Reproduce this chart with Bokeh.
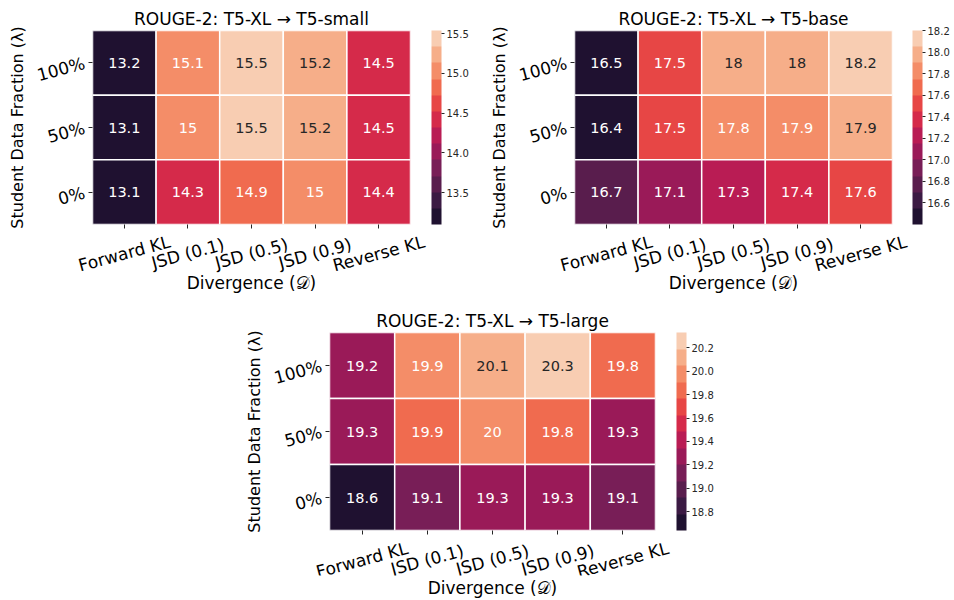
import math
from bokeh.plotting import figure
from bokeh.models import (ColumnDataSource, LinearColorMapper, ColorBar, FixedTicker,
                          PrintfTickFormatter, FactorRange, Range1d, Spacer)
from bokeh.layouts import row, column
from bokeh.core.properties import value
from bokeh.embed import file_html
from bokeh.resources import INLINE

divergences = ["Forward KL", "JSD (0.1)", "JSD (0.5)", "JSD (0.9)", "Reverse KL"]
fractions_top_down = ["100%", "50%", "0%"]

# ROUGE-2: T5-XL -> T5-small
small_100 = [13.2, 15.1, 15.54, 15.2, 14.5]
small_50 = [13.1, 15.0, 15.5, 15.2, 14.5]
small_0 = [13.1, 14.33, 14.9, 15.0, 14.4]
small_ticks = [13.5, 14.0, 14.5, 15.0, 15.5]

# ROUGE-2: T5-XL -> T5-base
base_100 = [16.5, 17.5, 18.0, 18.0, 18.2]
base_50 = [16.4, 17.5, 17.8, 17.88, 17.92]
base_0 = [16.72, 17.1, 17.28, 17.4, 17.58]
base_ticks = [16.6, 16.8, 17.0, 17.2, 17.4, 17.6, 17.8, 18.0, 18.2]

# ROUGE-2: T5-XL -> T5-large
large_100 = [19.22, 19.92, 20.1, 20.33, 19.8]
large_50 = [19.3, 19.88, 20.0, 19.8, 19.3]
large_0 = [18.64, 19.1, 19.3, 19.3, 19.1]
large_ticks = [18.8, 19.0, 19.2, 19.4, 19.6, 19.8, 20.0, 20.2]

rocket12 = ["#1f1130", "#3b1a43", "#591d4d", "#781e57", "#9a1a58", "#b91c54",
            "#d52a4a", "#e74645", "#f06b4f", "#f48d68", "#f6ae89", "#f8cdb2"]

FONT = "DejaVu Sans"


def style_text_axis(ax):
    ax.axis_line_color = None
    ax.minor_tick_line_color = None
    ax.major_label_text_font = FONT
    ax.major_label_text_font_size = "17px"
    ax.major_label_text_color = "black"
    ax.axis_label_text_font = FONT
    ax.axis_label_text_font_size = "17px"
    ax.axis_label_text_font_style = "normal"
    ax.axis_label_text_color = "black"


def heatmap(title, rows, ticks, width, bl, br, bt, frame_h, strip_h,
            strip_bb, cb_gap, lab_off, xtitle_standoff):
    xs, ys, vs, labels = [], [], [], []
    for frac, arr in zip(fractions_top_down, rows):
        for d, v in zip(divergences, arr):
            xs.append(d)
            ys.append(frac)
            vs.append(v)
            labels.append(f"{round(v, 1):g}")
    vmin, vmax = min(vs), max(vs)
    n = len(rocket12)
    tcs = []
    for v in vs:
        idx = min(int((v - vmin) / (vmax - vmin) * n), n - 1)
        tcs.append("#262626" if idx >= n - 2 else "white")
    src = ColumnDataSource(dict(x=xs, y=ys, v=vs, label=labels, tc=tcs))
    mapper = LinearColorMapper(palette=rocket12, low=vmin, high=vmax)

    bb = 8
    p = figure(x_range=FactorRange(*divergences),
               y_range=FactorRange(*fractions_top_down[::-1]),
               width=width, height=bt + frame_h + bb, toolbar_location=None,
               output_backend="svg",
               min_border_left=bl, min_border_right=br,
               min_border_top=bt, min_border_bottom=bb)
    p.rect(x="x", y="y", width=1, height=1, source=src,
           fill_color={"field": "v", "transform": mapper},
           line_color="white", line_width=1.5)
    p.text(x="x", y="y", text="label", source=src, text_color="tc",
           text_align="center", text_baseline="middle",
           text_font_size="14.5px", text_font=value(FONT))

    p.title.text = title
    p.title.align = "center"
    p.title.text_font = FONT
    p.title.text_font_size = "17px"
    p.title.text_font_style = "normal"
    p.title.text_color = "black"
    p.title.standoff = 4

    p.outline_line_color = None
    p.grid.grid_line_color = None
    for ax in (p.xaxis, p.yaxis):
        style_text_axis(ax)
        ax.major_tick_in = 0
        ax.major_tick_out = 4
        ax.major_tick_line_color = "#262626"
    p.yaxis.major_label_orientation = math.radians(15)
    p.yaxis.major_label_standoff = 4
    p.yaxis.axis_label = "Student Data Fraction (\u03bb)"
    p.yaxis.axis_label_text_font_size = "16px"
    p.yaxis.axis_label_standoff = 2
    # tick marks only; the divergence names are set in the strip below
    p.xaxis.major_label_text_color = None
    p.xaxis.major_label_text_font_size = "0px"
    p.xaxis.major_label_standoff = 0

    frame_w = width - bl - br
    cb = ColorBar(color_mapper=mapper, ticker=FixedTicker(ticks=ticks),
                  formatter=PrintfTickFormatter(format="%.1f"),
                  width=10, height=frame_h, padding=0, margin=0,
                  location=(frame_w + cb_gap, 0),
                  major_tick_in=0, major_tick_out=3,
                  major_tick_line_color="#262626",
                  major_label_text_font=FONT,
                  major_label_text_font_size="10px",
                  major_label_text_color="#262626",
                  label_standoff=2, bar_line_color=None,
                  border_line_color=None, background_fill_color=None)
    p.add_layout(cb)

    # strip below the heatmap carrying the rotated, centred divergence labels;
    # its frame is wider than the heatmap's so the labels are not clipped
    ncat = len(divergences)
    pad_px = 32
    pad_units = pad_px / (frame_w / ncat)
    strip_fh = strip_h - strip_bb
    s = figure(x_range=Range1d(-pad_units, ncat + pad_units),
               y_range=Range1d(0, strip_fh), title=None,
               width=width, height=strip_h, toolbar_location=None,
               output_backend="svg", y_axis_location=None,
               min_border_left=bl - pad_px, min_border_right=br - pad_px,
               min_border_top=0, min_border_bottom=strip_bb)
    for fig in (p, s):
        if "frame_align" in fig.properties():
            fig.frame_align = False
    s.text(x=[i + 0.5 for i in range(ncat)],
           y=[strip_fh - (lab_off - bb)] * ncat,
           text=divergences, angle=math.radians(15), text_align="center",
           text_baseline="middle", text_font=value(FONT),
           text_font_size="17px", text_color="black")
    s.outline_line_color = None
    s.grid.grid_line_color = None
    style_text_axis(s.xaxis)
    s.xaxis.ticker = FixedTicker(ticks=[])
    s.xaxis.major_tick_line_color = None
    s.xaxis.major_tick_out = 0
    s.xaxis.major_tick_in = 0
    s.xaxis.major_label_standoff = 0
    s.xaxis.axis_label = "Divergence (\U0001D49F)"
    s.xaxis.axis_label_standoff = xtitle_standoff
    return column(p, s)


c1 = heatmap("ROUGE-2: T5-XL \u2192 T5-small", [small_100, small_50, small_0],
             small_ticks, 476, 92, 66, 30, 194, 66, 26, 21, 29, 0)
c2 = heatmap("ROUGE-2: T5-XL \u2192 T5-base", [base_100, base_50, base_0],
             base_ticks, 478, 98, 62, 30, 194, 66, 26, 20, 29, 0)
c3 = heatmap("ROUGE-2: T5-XL \u2192 T5-large", [large_100, large_50, large_0],
             large_ticks, 495, 99, 70, 34, 198, 62, 24, 21, 30, 2)

layout = column(row(c1, c2), row(Spacer(width=230, height=10), c3))
open("out.html", "w").write(file_html(layout, INLINE))
